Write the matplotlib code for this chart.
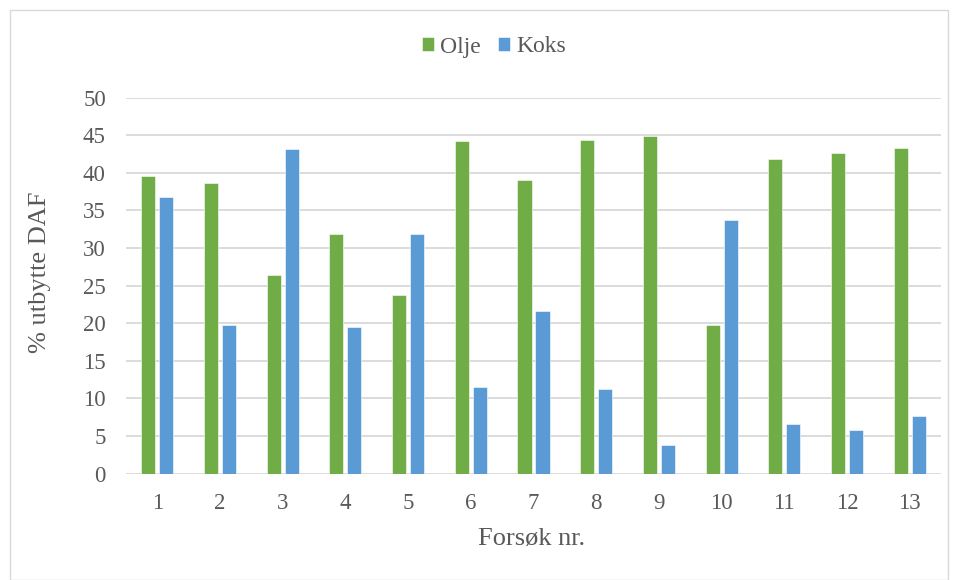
import numpy as np
import matplotlib
matplotlib.use('Agg')
import matplotlib.pyplot as plt
from matplotlib.patches import Rectangle

forsok = ['1', '2', '3', '4', '5', '6', '7', '8', '9', '10', '11', '12', '13']
olje = [39.5, 38.6, 26.4, 31.8, 23.8, 44.2, 39.0, 44.4, 44.9, 19.75, 41.8, 42.6, 43.3]
koks = [36.8, 19.8, 43.2, 19.5, 31.8, 11.5, 21.6, 11.3, 3.75, 33.7, 6.6, 5.8, 7.65]

grey = '#595959'
plt.rcParams['font.family'] = ['Liberation Serif', 'DejaVu Serif']

W, H = 958, 580
fig = plt.figure(figsize=(W / 100, H / 100), dpi=100)
ax = fig.add_axes([126 / W, 1 - 473.5 / H, (941 - 126) / W, (473.5 - 97.5) / H])

x = np.arange(len(forsok))
w = 0.225
off = 0.1435
ax.bar(x - off, olje, w, color='#70AD47', edgecolor='white', linewidth=0.4, label='Olje', zorder=3)
ax.bar(x + off, koks, w, color='#5B9BD5', edgecolor='white', linewidth=0.4, label='Koks', zorder=3)

ax.set_xlim(-0.5, len(forsok) - 0.5)
ax.set_ylim(0, 50)
ax.set_yticks(range(0, 51, 5))
ax.set_xticks(x)
ax.set_xticklabels(forsok)
ax.yaxis.grid(True, color='#d9d9d9', linewidth=1.3, zorder=0)
ax.set_axisbelow(True)
for s in ax.spines.values():
    s.set_visible(False)
ax.tick_params(length=0, labelsize=16.5, labelcolor=grey)
ax.tick_params(axis='y', pad=14.5)
ax.tick_params(axis='x', pad=14)

# axis titles placed like the Excel layout
fig.text(40 / W, 1 - 272 / H, '% utbytte DAF', rotation=90, fontsize=19, color=grey,
         ha='center', va='center')
fig.text(532 / W, 1 - 539 / H, 'Forsøk nr.', fontsize=19, color=grey,
         ha='center', va='center')

fig.legend(loc='center', bbox_to_anchor=(494 / W, 1 - 47 / H), ncol=2, frameon=False,
           fontsize=17, labelcolor=grey, handlelength=0.5, handleheight=0.5,
           handletextpad=0.25, columnspacing=0.75)

fig.patches.append(Rectangle((10 / W, 0), 938 / W, 570 / H, transform=fig.transFigure,
                             fill=False, edgecolor='#d9d9d9', linewidth=1))

fig.savefig('out.png', dpi=100)
